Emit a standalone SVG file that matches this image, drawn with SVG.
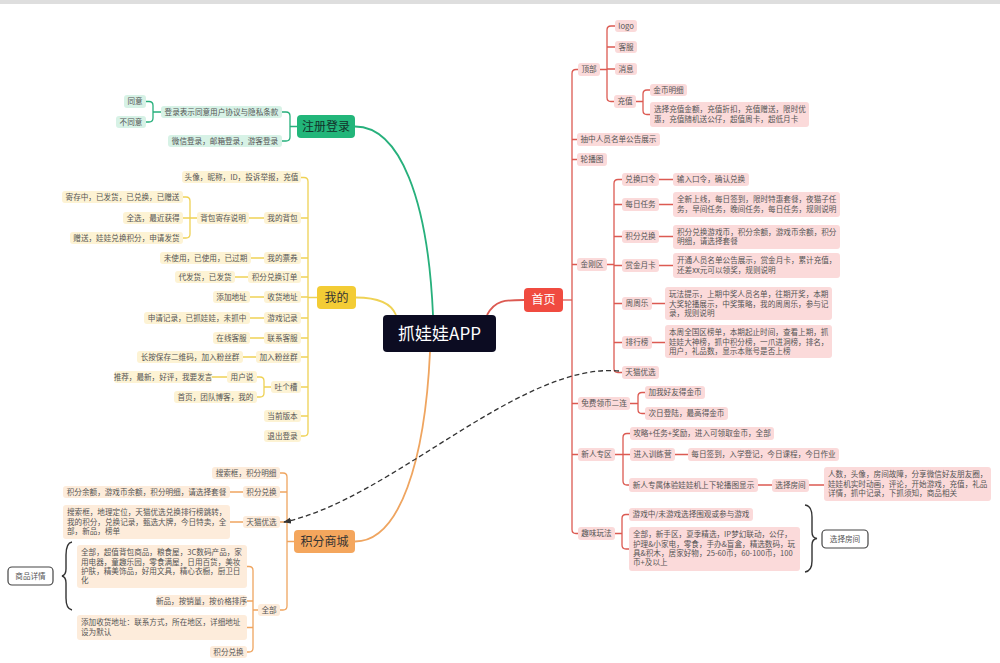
<svg xmlns="http://www.w3.org/2000/svg" width="1000" height="663" viewBox="0 0 1000 663">
<style>
text{font-family:"Noto Sans CJK SC","Noto Sans",sans-serif;}
.t{font-size:7.6px;fill:#555;}
.c{text-anchor:middle;}
.r{fill:#fbdada;}
.y{fill:#fdf3d4;}
.g{fill:#d7f2e6;}
.o{fill:#fdecdb;}
.lr{stroke:#dc5a52;fill:none;stroke-width:1.3;}
.ly{stroke:#efd255;fill:none;stroke-width:1.3;}
.lg{stroke:#27b07c;fill:none;stroke-width:1.3;}
.lo{stroke:#efa560;fill:none;stroke-width:1.3;}
.main{stroke-width:1.8;}
.br{stroke:#333;fill:none;stroke-width:1.4;}
.big{font-size:12px;}
</style>
<defs>
<marker id="ah" viewBox="0 0 10 10" refX="9" refY="5" markerWidth="6" markerHeight="6" orient="auto-start-reverse">
<path d="M0,1 L10,5 L0,9 z" fill="#333"/>
</marker>
</defs>
<rect x="0" y="0" width="1000" height="4" fill="#dedede"/>

<g id="connectors">
<!-- main branches -->
<path class="lg main" d="M355,126.5 C400,126.5 428,200 433,315"/>
<path class="ly main" d="M356,297.5 C380,297.5 392,305 396,315"/>
<path class="lr main" d="M487,315 C495,300 505,300 524,300"/>
<path class="lo main" d="M430,352 C425,460 400,541.5 355,541.5"/>
<!-- red -->
<path class="lr" d="M563,300 H572"/>
<path class="lr" d="M578,69.5 H576 Q572,69.5 572,73.5 V529.5 Q572,533.5 576,533.5 H578"/>
<path class="lr" d="M572,139.5 H577 M572,159.5 H577 M572,264.5 H577 M572,403.5 H578 M572,454.5 H578"/>
<path class="lr" d="M600,69.5 H607 M615,26 H611 Q607,26 607,30 V97.5 Q607,101.5 611,101.5 H614 M607,47 H615 M607,69 H615"/>
<path class="lr" d="M636,101.5 H643 M650,90 H647 Q643,90 643,94 V110.5 Q643,114.5 647,114.5 H650"/>
<path class="lr" d="M607,264.5 H614 M622,179.5 H618 Q614,179.5 614,183.5 V368.5 Q614,372.5 618,372.5 H622 M614,204.5 H622 M614,236.5 H622 M614,265.5 H622 M614,303.5 H622 M614,342.5 H622"/>
<path class="lr" d="M659,179.5 H673 M659,204.5 H673 M659,236.5 H673 M659,265.5 H673 M652,303.5 H665 M652,342.5 H665"/>
<path class="lr" d="M630,403.5 H638 M645,392.5 H642 Q638,392.5 638,396.5 V409.5 Q638,413.5 642,413.5 H645"/>
<path class="lr" d="M615,454.5 H623 M630,433.5 H627 Q623,433.5 623,437.5 V481 Q623,485 627,485 H629 M623,454.5 H630"/>
<path class="lr" d="M675,454.5 H688 M758,485 H772 M809,485 H824"/>
<path class="lr" d="M615,533.5 H622 M629,514.5 H626 Q622,514.5 622,518.5 V545 Q622,549 626,549 H629"/>
<!-- yellow -->
<path class="ly" d="M317,297.5 H308 M301,177.5 H304 Q308,177.5 308,181.5 V432 Q308,436 304,436 H301"/>
<path class="ly" d="M308,218 H301 M308,258 H301 M308,277 H301 M308,297 H301 M308,318 H301 M308,338 H301 M308,357 H301 M308,387 H301 M308,416 H301"/>
<path class="ly" d="M264,218 H249 M197,218 H190 M183,197 H186 Q190,197 190,201 V234 Q190,238 186,238 H183 M190,218 H183"/>
<path class="ly" d="M264,258 H251 M248,277 H235 M264,297 H250 M264,318 H250 M264,338 H250 M256,357 H243"/>
<path class="ly" d="M271,387 H264 M257,377 H260 Q264,377 264,381 V393 Q264,397 260,397 H257 M227,377 H212"/>
<!-- green -->
<path class="lg" d="M297,126.5 H290 M282,112 H286 Q290,112 290,116 V137 Q290,141 286,141 H282"/>
<path class="lg" d="M161,112 H153 M146,101.5 H149 Q153,101.5 153,105.5 V118 Q153,122 149,122 H146"/>
<!-- orange -->
<path class="lo" d="M294,541.5 H287 M280,473 H283 Q287,473 287,477 V606 Q287,610 283,610 H280 M287,492 H280 M287,522 H280"/>
<path class="lo" d="M243,492 H230 M243,522 H230"/>
<path class="lo" d="M258,610 H253 M247,566.5 H249 Q253,566.5 253,570.5 V648 Q253,652 249,652 H247 M253,601 H247 M253,627.5 H247"/>
<!-- dashed link -->
<path d="M619,371 C520,362 390,500 284,522" fill="none" stroke="#333" stroke-width="1.3" stroke-dasharray="5 3" marker-end="url(#ah)"/>
<!-- braces -->
<path class="br" d="M805,505 Q812,506 812,517 V532 Q812,538 817,538.5 Q812,539 812,545 V561 Q812,571 805,572"/>
<path class="br" d="M72,542 Q66,543 66,555 V569 Q66,575 62,576 Q66,577 66,583 V598 Q66,609 72,610"/>
</g>

<g id="root"><rect x="383" y="315" width="113" height="37" rx="4" fill="#0c0c22"/><text x="439.5" y="339.5" class="c" font-size="17" fill="#fff">抓娃娃APP</text></g>
<g id="shouye"><rect x="524" y="288" width="39" height="24" rx="4" fill="#f04b40"/><text x="543.5" y="304.2" class="c big" fill="#fff">首页</text></g>
<g id="wode"><rect x="317" y="286" width="39" height="23" rx="4" fill="#f3cc35"/><text x="336.5" y="301.7" class="c big" fill="#333">我的</text></g>
<g id="zhuce"><rect x="297" y="115" width="58" height="23" rx="4" fill="#22b67a"/><text x="326" y="130.7" class="c big" fill="#12332a">注册登录</text></g>
<g id="shangcheng"><rect x="294" y="530" width="61" height="23" rx="4" fill="#f4a65d"/><text x="324.5" y="545.7" class="c big" fill="#333">积分商城</text></g>

<!-- red nodes -->
<g id="r-dingbu"><rect class="r" x="578" y="63" width="22" height="13" rx="3"/><text class="t c" x="589" y="72.2">顶部</text></g>
<g id="r-logo"><rect class="r" x="615" y="20" width="22" height="12" rx="3"/><text class="t c" x="626" y="28.7">logo</text></g>
<g id="r-kefu"><rect class="r" x="615" y="41" width="22" height="12" rx="3"/><text class="t c" x="626" y="49.7">客服</text></g>
<g id="r-xiaoxi"><rect class="r" x="615" y="63" width="22" height="12" rx="3"/><text class="t c" x="626" y="71.7">消息</text></g>
<g id="r-chongzhi"><rect class="r" x="614" y="95" width="22" height="13" rx="3"/><text class="t c" x="625" y="104.2">充值</text></g>
<g id="r-jinbi"><rect class="r" x="650" y="84" width="37" height="12" rx="3"/><text class="t c" x="668.5" y="92.7">金币明细</text></g>
<g id="r-czxq"><rect class="r" x="650" y="102" width="159" height="25" rx="3"/><text class="t" x="654" y="112.2">选择充值金额，充值折扣，充值赠送，限时优<tspan x="654" dy="9.3">惠，充值随机送公仔，超值周卡，超低月卡</tspan></text></g>
<g id="r-choujiang"><rect class="r" x="577" y="133" width="83" height="13" rx="3"/><text class="t c" x="618.5" y="142.2">抽中人员名单公告展示</text></g>
<g id="r-lunbo"><rect class="r" x="577" y="153" width="30" height="13" rx="3"/><text class="t c" x="592" y="162.2">轮播图</text></g>
<g id="r-jingang"><rect class="r" x="577" y="258" width="30" height="13" rx="3"/><text class="t c" x="592" y="267.2">金刚区</text></g>
<g id="r-duihuan"><rect class="r" x="622" y="173" width="37" height="13" rx="3"/><text class="t c" x="640.5" y="182.2">兑换口令</text></g>
<g id="r-duihuan-c"><rect class="r" x="673" y="173" width="76" height="13" rx="3"/><text class="t c" x="711" y="182.2">输入口令，确认兑换</text></g>
<g id="r-meiri"><rect class="r" x="622" y="198" width="37" height="13" rx="3"/><text class="t c" x="640.5" y="207.2">每日任务</text></g>
<g id="r-meiri-c"><rect class="r" x="673" y="192" width="167" height="25" rx="3"/><text class="t" x="677" y="202.2">全新上线，每日签到，限时特惠套餐，夜猫子任<tspan x="677" dy="9.3">务，早间任务，晚间任务，每日任务，规则说明</tspan></text></g>
<g id="r-jifen"><rect class="r" x="622" y="230" width="37" height="13" rx="3"/><text class="t c" x="640.5" y="239.2">积分兑换</text></g>
<g id="r-jifen-c"><rect class="r" x="673" y="225" width="167" height="24" rx="3"/><text class="t" x="677" y="235">积分兑换游戏币，积分余额，游戏币余额，积分<tspan x="677" dy="9.3">明细，请选择套餐</tspan></text></g>
<g id="r-shangjin"><rect class="r" x="622" y="259" width="37" height="13" rx="3"/><text class="t c" x="640.5" y="268.2">赏金月卡</text></g>
<g id="r-shangjin-c"><rect class="r" x="673" y="253" width="167" height="25" rx="3"/><text class="t" x="677" y="263.2">开通人员名单公告展示，赏金月卡，累计充值，<tspan x="677" dy="9.3">还差xx元可以领奖，规则说明</tspan></text></g>
<g id="r-zhouzhou"><rect class="r" x="622" y="297" width="30" height="13" rx="3"/><text class="t c" x="637" y="306.2">周周乐</text></g>
<g id="r-zhouzhou-c"><rect class="r" x="665" y="287" width="167" height="33" rx="3"/><text class="t" x="669" y="297.2">玩法提示，上期中奖人员名单，往期开奖，本期<tspan x="669" dy="9.3">大奖轮播展示，中奖策略，我的周周乐，参与记</tspan><tspan x="669" dy="9.3">录，规则说明</tspan></text></g>
<g id="r-paihang"><rect class="r" x="622" y="336" width="30" height="13" rx="3"/><text class="t c" x="637" y="345.2">排行榜</text></g>
<g id="r-paihang-c"><rect class="r" x="665" y="325" width="167" height="33" rx="3"/><text class="t" x="669" y="335.2">本周全国区榜单，本期起止时间，查看上期，抓<tspan x="669" dy="9.3">娃娃大神榜，抓中积分榜，一爪进洞榜，排名，</tspan><tspan x="669" dy="9.3">用户，礼品数，显示本账号是否上榜</tspan></text></g>
<g id="r-tianmao"><rect class="r" x="622" y="366" width="37" height="13" rx="3"/><text class="t c" x="640.5" y="375.2">天猫优选</text></g>
<g id="r-mianfei"><rect class="r" x="578" y="397" width="52" height="13" rx="3"/><text class="t c" x="604" y="406.2">免费领币二连</text></g>
<g id="r-haoyou"><rect class="r" x="645" y="386" width="60" height="13" rx="3"/><text class="t c" x="675" y="395.2">加我好友得金币</text></g>
<g id="r-ciri"><rect class="r" x="645" y="407" width="83" height="13" rx="3"/><text class="t c" x="686.5" y="416.2">次日登陆，最高得金币</text></g>
<g id="r-xinren"><rect class="r" x="578" y="448" width="37" height="13" rx="3"/><text class="t c" x="596.5" y="457.2">新人专区</text></g>
<g id="r-gonglue"><rect class="r" x="630" y="427" width="144" height="13" rx="3"/><text class="t c" x="702" y="436.2">攻略+任务+奖励，进入可领取金币，全部</text></g>
<g id="r-xunlian"><rect class="r" x="630" y="448" width="45" height="13" rx="3"/><text class="t c" x="652.5" y="457.2">进入训练营</text></g>
<g id="r-xunlian-c"><rect class="r" x="688" y="448" width="151" height="13" rx="3"/><text class="t c" x="763.5" y="457.2">每日签到，入学登记，今日课程，今日作业</text></g>
<g id="r-tiyan"><rect class="r" x="629" y="478" width="129" height="14" rx="3"/><text class="t c" x="693.5" y="487.7">新人专属体验娃娃机上下轮播图显示</text></g>
<g id="r-xzfj"><rect class="r" x="772" y="479" width="37" height="13" rx="3"/><text class="t c" x="790.5" y="488.2">选择房间</text></g>
<g id="r-xzfj-c"><rect class="r" x="824" y="467" width="167" height="34" rx="3"/><text class="t" x="828" y="477.2">人数，头像，房间故障，分享微信好友朋友圈，<tspan x="828" dy="9.3">娃娃机实时动画，评论，开始游戏，充值，礼品</tspan><tspan x="828" dy="9.3">详情，抓中记录，下抓须知，商品相关</tspan></text></g>
<g id="r-quwei"><rect class="r" x="578" y="527" width="37" height="13" rx="3"/><text class="t c" x="596.5" y="536.2">趣味玩法</text></g>
<g id="r-youxizhong"><rect class="r" x="629" y="508" width="124" height="13" rx="3"/><text class="t c" x="691" y="517.2">游戏中/未游戏选择围观或参与游戏</text></g>
<g id="r-quanbu"><rect class="r" x="629" y="527" width="171" height="44" rx="3"/><text class="t" x="633" y="537.2">全部，新手区，夏季精选，IP梦幻联动，公仔，<tspan x="633" dy="9.3">护理&amp;小家电，零食，手办&amp;盲盒，精选数码，玩</tspan><tspan x="633" dy="9.3">具&amp;积木，居家好物，25-60币，60-100币，100</tspan><tspan x="633" dy="9.3">币+及以上</tspan></text></g>
<g id="r-xzfj2"><rect x="822" y="530" width="46" height="18" rx="4" fill="#fff" stroke="#444" stroke-width="1.2"/><text class="t c" x="845" y="541.8" fill="#444">选择房间</text></g>

<!-- yellow nodes -->
<g id="y-touxiang"><rect class="y" x="182" y="171" width="119" height="12" rx="3"/><text class="t c" x="241.5" y="179.7">头像，昵称，ID，投诉举报，充值</text></g>
<g id="y-beibao"><rect class="y" x="264" y="212" width="37" height="12" rx="3"/><text class="t c" x="282.5" y="220.7">我的背包</text></g>
<g id="y-jicun"><rect class="y" x="197" y="212" width="52" height="12" rx="3"/><text class="t c" x="223" y="220.7">背包寄存说明</text></g>
<g id="y-jicunzhong"><rect class="y" x="62" y="191" width="121" height="12" rx="3"/><text class="t c" x="122.5" y="199.7">寄存中，已发货，已兑换，已赠送</text></g>
<g id="y-quanxuan"><rect class="y" x="123" y="212" width="60" height="12" rx="3"/><text class="t c" x="153" y="220.7">全选，最近获得</text></g>
<g id="y-zengsong"><rect class="y" x="70" y="232" width="113" height="12" rx="3"/><text class="t c" x="126.5" y="240.7">赠送，娃娃兑换积分，申请发货</text></g>
<g id="y-piaoquan"><rect class="y" x="264" y="252" width="37" height="12" rx="3"/><text class="t c" x="282.5" y="260.7">我的票券</text></g>
<g id="y-weishiyong"><rect class="y" x="160" y="252" width="91" height="12" rx="3"/><text class="t c" x="205.5" y="260.7">未使用，已使用，已过期</text></g>
<g id="y-dingdan"><rect class="y" x="248" y="271" width="53" height="12" rx="3"/><text class="t c" x="274.5" y="279.7">积分兑换订单</text></g>
<g id="y-daifahuo"><rect class="y" x="175" y="271" width="60" height="12" rx="3"/><text class="t c" x="205" y="279.7">代发货，已发货</text></g>
<g id="y-shouhuo"><rect class="y" x="264" y="291" width="37" height="12" rx="3"/><text class="t c" x="282.5" y="299.7">收货地址</text></g>
<g id="y-tianjia"><rect class="y" x="213" y="291" width="37" height="12" rx="3"/><text class="t c" x="231.5" y="299.7">添加地址</text></g>
<g id="y-youxi"><rect class="y" x="264" y="312" width="37" height="12" rx="3"/><text class="t c" x="282.5" y="320.7">游戏记录</text></g>
<g id="y-shenqing"><rect class="y" x="144" y="312" width="106" height="12" rx="3"/><text class="t c" x="197" y="320.7">申请记录，已抓娃娃，未抓中</text></g>
<g id="y-lianxi"><rect class="y" x="264" y="332" width="37" height="12" rx="3"/><text class="t c" x="282.5" y="340.7">联系客服</text></g>
<g id="y-zaixian"><rect class="y" x="213" y="332" width="37" height="12" rx="3"/><text class="t c" x="231.5" y="340.7">在线客服</text></g>
<g id="y-fensi"><rect class="y" x="256" y="351" width="45" height="12" rx="3"/><text class="t c" x="278.5" y="359.7">加入粉丝群</text></g>
<g id="y-changan"><rect class="y" x="137" y="351" width="106" height="12" rx="3"/><text class="t c" x="190" y="359.7">长按保存二维码，加入粉丝群</text></g>
<g id="y-tucao"><rect class="y" x="271" y="381" width="30" height="12" rx="3"/><text class="t c" x="286" y="389.7">吐个槽</text></g>
<g id="y-yonghu"><rect class="y" x="227" y="371" width="30" height="12" rx="3"/><text class="t c" x="242" y="379.7">用户说</text></g>
<g id="y-tuijian"><rect class="y" x="114" y="371" width="98" height="12" rx="3"/><text class="t c" x="163" y="379.7">推荐，最新，好评，我要发言</text></g>
<g id="y-shouye"><rect class="y" x="174" y="391" width="83" height="12" rx="3"/><text class="t c" x="215.5" y="399.7">首页，团队博客，我的</text></g>
<g id="y-banben"><rect class="y" x="264" y="410" width="37" height="12" rx="3"/><text class="t c" x="282.5" y="418.7">当前版本</text></g>
<g id="y-tuichu"><rect class="y" x="264" y="430" width="37" height="12" rx="3"/><text class="t c" x="282.5" y="438.7">退出登录</text></g>

<!-- green nodes -->
<g id="g-xieyi"><rect class="g" x="161" y="106" width="121" height="12" rx="3"/><text class="t c" x="221.5" y="114.7">登录表示同意用户协议与隐私条款</text></g>
<g id="g-weixin"><rect class="g" x="168" y="135" width="114" height="12" rx="3"/><text class="t c" x="225" y="143.7">微信登录，邮箱登录，游客登录</text></g>
<g id="g-tongyi"><rect class="g" x="124" y="95" width="22" height="13" rx="3"/><text class="t c" x="135" y="104.2">同意</text></g>
<g id="g-butongyi"><rect class="g" x="116" y="116" width="30" height="12" rx="3"/><text class="t c" x="131" y="124.7">不同意</text></g>

<!-- orange nodes -->
<g id="o-sousuo"><rect class="o" x="212" y="467" width="68" height="12" rx="3"/><text class="t c" x="246" y="475.7">搜索框，积分明细</text></g>
<g id="o-jifen"><rect class="o" x="243" y="486" width="37" height="12" rx="3"/><text class="t c" x="261.5" y="494.7">积分兑换</text></g>
<g id="o-jifen-c"><rect class="o" x="63" y="486" width="167" height="12" rx="3"/><text class="t c" x="146.5" y="494.7">积分余额，游戏币余额，积分明细，请选择套餐</text></g>
<g id="o-tianmao"><rect class="o" x="243" y="516" width="37" height="12" rx="3"/><text class="t c" x="261.5" y="524.7">天猫优选</text></g>
<g id="o-tianmao-c"><rect class="o" x="63" y="505" width="167" height="34" rx="3"/><text class="t" x="67" y="515.2">搜索框，地理定位，天猫优选兑换排行榜跳转，<tspan x="67" dy="9.3">我的积分，兑换记录，甄选大牌，今日特卖，全</tspan><tspan x="67" dy="9.3">部，新品，榜单</tspan></text></g>
<g id="o-quanbu"><rect class="o" x="258" y="604" width="22" height="12" rx="3"/><text class="t c" x="269" y="612.7">全部</text></g>
<g id="o-fenlei"><rect class="o" x="77" y="545" width="170" height="43" rx="3"/><text class="t" x="81" y="555.2">全部，超值背包商品，粮食屋，3C数码产品，家<tspan x="81" dy="9.3">用电器，童趣乐园，零食满屋，日用百货，美妆</tspan><tspan x="81" dy="9.3">护肤，精美饰品，好用文具，精心衣橱，厨卫日</tspan><tspan x="81" dy="9.3">化</tspan></text></g>
<g id="o-paixu"><rect class="o" x="156" y="595" width="91" height="12" rx="3"/><text class="t c" x="201.5" y="603.7">新品，按销量，按价格排序</text></g>
<g id="o-dizhi"><rect class="o" x="77" y="615" width="170" height="25" rx="3"/><text class="t" x="81" y="625.2">添加收货地址：联系方式，所在地区，详细地址<tspan x="81" dy="9.3">设为默认</tspan></text></g>
<g id="o-jifen2"><rect class="o" x="210" y="646" width="37" height="12" rx="3"/><text class="t c" x="228.5" y="654.7">积分兑换</text></g>
<g id="o-xiangqing"><rect x="8" y="567" width="45" height="18" rx="4" fill="#fff" stroke="#444" stroke-width="1.2"/><text class="t c" x="30.5" y="578.8" fill="#444">商品详情</text></g>
</svg>
